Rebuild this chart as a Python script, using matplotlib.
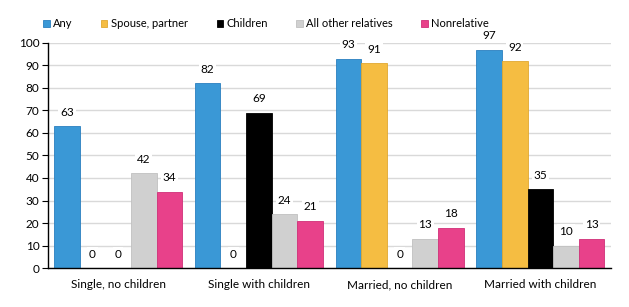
import matplotlib.pyplot as plt
import numpy as np

plt.rcParams['font.family'] = ['Lato', 'DejaVu Sans']

categories = ['Single, no children', 'Single with children',
              'Married, no children', 'Married with children']
series = ['Any', 'Spouse, partner', 'Children', 'All other relatives', 'Nonrelative']
any_vals = [63, 82, 93, 97]
spouse_vals = [0, 0, 91, 92]
children_vals = [0, 69, 0, 35]
other_vals = [42, 24, 13, 10]
nonrel_vals = [34, 21, 18, 13]
colors = ['#3a98d6', '#f5bd42', '#000000', '#d0d0d0', '#e8418a']
edges = ['#2a7fbf', '#e0a830', '#000000', '#c0c0c0', '#d02f78']

data = [any_vals, spouse_vals, children_vals, other_vals, nonrel_vals]

fig = plt.figure(figsize=(6.29, 3.07), dpi=100)
ax = fig.add_axes([0.076, 0.127, 0.895, 0.733])

x = np.arange(len(categories))
w = 0.182
for i, (name, vals) in enumerate(zip(series, data)):
    pos = x + (i - 2) * w
    ax.bar(pos, vals, w, color=colors[i], edgecolor=edges[i], linewidth=0.6,
           label=name, zorder=2)
    for p, v in zip(pos, vals):
        ax.annotate(str(v), (p, v), xytext=(0, 6), textcoords='offset points',
                    ha='center', va='bottom', fontsize=8.5, zorder=3,
                    bbox=dict(boxstyle='square,pad=0.15', fc='white', ec='none'))

ax.set_xlim(-0.5, 3.5)
ax.set_ylim(0, 100)
ax.set_yticks(range(0, 101, 10))
ax.set_xticks(x)
ax.set_xticklabels(categories, fontsize=8.5)
ax.tick_params(axis='x', length=0, pad=8)
ax.tick_params(axis='y', labelsize=8.5, length=4, width=0.8, pad=2)
ax.yaxis.grid(True, color='#d9d9d9', linewidth=1, zorder=0)
ax.set_axisbelow(True)
for s in ['top', 'right']:
    ax.spines[s].set_visible(False)
ax.spines['left'].set_linewidth(1)
ax.spines['bottom'].set_linewidth(1)

fig.legend(loc='center', bbox_to_anchor=(0.423, 0.922), ncol=5, frameon=False,
           fontsize=8, handlelength=0.55, handleheight=0.55, handletextpad=0.3,
           columnspacing=2.6)

fig.savefig('out.png', dpi=100)
